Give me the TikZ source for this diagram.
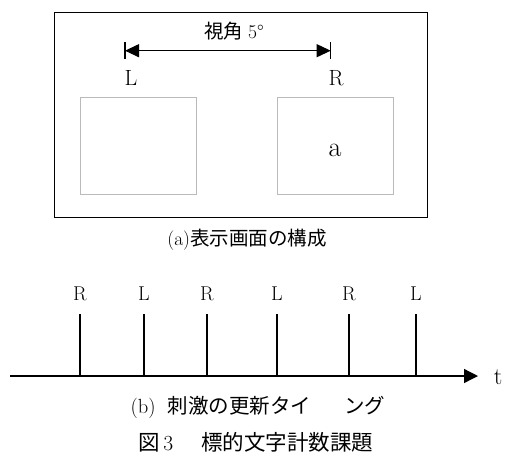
\documentclass[tikz,border=0pt]{standalone}
\usepackage{fontspec}
\newfontfamily\jp{Noto Sans CJK JP}
\usetikzlibrary{arrows.meta}
\begin{document}
\begin{tikzpicture}[x=1pt,y=-1pt,
  lat/.style={font=\fontsize{22}{26}\selectfont, inner sep=0pt},
  small/.style={font=\fontsize{20}{24}\selectfont, inner sep=0pt},
  jpt/.style={font=\fontsize{19.5}{22}\selectfont\jp, inner sep=0pt},
  subcap/.style={font=\fontsize{20.5}{23}\selectfont\jp, inner sep=0pt},
  figcap/.style={font=\fontsize{21.5}{24}\selectfont\jp, inner sep=0pt},
  frame/.style={draw=black, line width=1.4pt, inner sep=0pt, anchor=north west},
  graybox/.style={draw=black!27, line width=1.3pt, inner sep=0pt, anchor=north west, minimum width=116pt, minimum height=97pt},
  tickline/.style={line width=1.1pt}]
\useasboundingbox (0,0) rectangle (506,464);
% screen
\node[frame, minimum width=373pt, minimum height=205pt] (screen) at (54,12) {};
\node[graybox] (lbox) at (80,97) {};
\node[graybox] (rbox) at (277,97) {};
% visual angle
\coordinate (la) at (125,50.7);
\coordinate (ra) at (330.7,50.7);
\draw[line width=1.1pt, {Triangle[length=14pt,width=13pt]}-{Triangle[length=14pt,width=13pt]}] (la) -- (ra);
\draw[line width=1.1pt] ([yshift=-8.5pt]la) -- ([yshift=8.5pt]la);
\draw[line width=1.1pt] ([yshift=-8.5pt]ra) -- ([yshift=8.5pt]ra);
\node[jpt] (vang) at (234,31) {視角\hspace{0.25em}{\rmfamily 5\textdegree}};
\node[lat] (lL) at (131,78) {L};
\node[lat] (lR) at (336,78) {R};
\node[lat, font=\fontsize{28}{30}\selectfont] (la2) at (335,150) {a};
\node[jpt] (capa) at (247,240) {{\rmfamily(a)}表示画面の構成};
% timeline
\coordinate (t0) at (10,376);
\coordinate (t1) at (478,376);
\draw[line width=1.3pt, -{Triangle[length=14pt,width=14pt]}] (t0) -- (t1);
\node[lat, font=\fontsize{24}{26}\selectfont] (tt) at (498,377) {t};
\foreach \x/\l [count=\i] in {80/R,144/L,207/R,277/L,349/R,416/L} {
  \coordinate (k\i) at (\x,376);
  \draw[tickline] (k\i) -- ++(0,-62);
  \node[small] (m\i) at (\x,294) {\l};
}
\node[subcap] (capb) at (258,407) {{\rmfamily(b)}\hspace{0.6em}刺激の更新タイ\hspace{1.6em}ング};
\node[figcap] (fig) at (256,442) {図\hspace{0.15em}{\rmfamily 3}\hspace{1.3em}標的文字計数課題};
\end{tikzpicture}
\end{document}
